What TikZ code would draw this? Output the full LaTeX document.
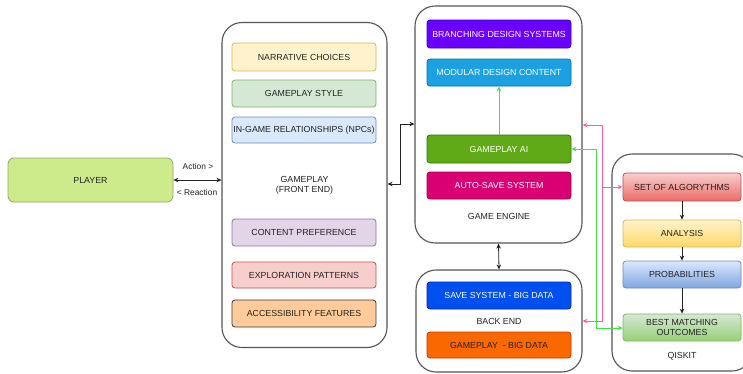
\documentclass[tikz,border=0pt]{standalone}
\usepackage{fontspec}
\setmainfont{Liberation Sans}
\usetikzlibrary{arrows.meta}
\definecolor{ink}{HTML}{222222}
\definecolor{frame}{HTML}{555555}
\definecolor{pinkln}{HTML}{FF5CAD}
\definecolor{greenln}{HTML}{44E044}
% fills and strokes
\definecolor{plFill}{HTML}{CDEB8B}\definecolor{plLine}{HTML}{8FA86A}
\definecolor{yeFill}{HTML}{FFF2CC}\definecolor{yeLine}{HTML}{D6B656}\definecolor{yeDeep}{HTML}{FFD966}
\definecolor{grFill}{HTML}{D5E8D4}\definecolor{grLine}{HTML}{82B366}\definecolor{grDeep}{HTML}{97D077}
\definecolor{blFill}{HTML}{DAE8FC}\definecolor{blLine}{HTML}{6C8EBF}\definecolor{blDeep}{HTML}{7EA6E0}
\definecolor{puFill}{HTML}{E1D5E7}\definecolor{puLine}{HTML}{9673A6}
\definecolor{rdFill}{HTML}{F8CECC}\definecolor{rdLine}{HTML}{B85450}\definecolor{rdDeep}{HTML}{EA6B66}
\definecolor{orFill}{HTML}{FFCC99}\definecolor{orLine}{HTML}{36393D}
\definecolor{viFill}{HTML}{6A00FF}\definecolor{viLine}{HTML}{3700CC}
\definecolor{cyFill}{HTML}{1BA1E2}\definecolor{cyLine}{HTML}{006EAF}
\definecolor{gaFill}{HTML}{60A917}\definecolor{gaLine}{HTML}{2D7600}
\definecolor{mgFill}{HTML}{D80073}\definecolor{mgLine}{HTML}{A50040}
\definecolor{cbFill}{HTML}{0050EF}\definecolor{cbLine}{HTML}{001DBC}
\definecolor{onFill}{HTML}{FA6800}\definecolor{onLine}{HTML}{C73500}
\tikzset{
  txt/.style={font=\fontsize{8.8}{10.5}\selectfont, text=ink, align=center},
  container/.style={draw=frame, line width=1.1pt, rounded corners=20pt, fill=white},
  item/.style={txt, rounded corners=3pt, line width=0.8pt, inner sep=0pt},
  flat/.style 2 args={item, fill=#1, draw=#2},
  darkflat/.style 2 args={flat={#1}{#2}, text=white},
  grad/.style n args={3}{item, top color=#1, bottom color=#2, draw=#3},
  tip/.style={-{Stealth[length=5pt,width=4.5pt]}},
  both/.style={{Stealth[length=5pt,width=4.5pt]}-{Stealth[length=5pt,width=4.5pt]}},
  wire/.style={line width=0.8pt}
}
\begin{document}
\begin{tikzpicture}[x=1pt,y=-1pt]
\useasboundingbox (0,0) rectangle (743,373);
\fill[white] (0,0) rectangle (743,373);

% player
\node[flat={plFill}{plLine}, rounded corners=6pt, minimum width=165pt, minimum height=44pt] (player) at (90.5,180) {PLAYER};

% front end
\node[container, minimum width=165pt, minimum height=325pt] (fe) at (304.5,185) {};
\node[txt] (felbl) at (304.5,185.5) {GAMEPLAY\\(FRONT END)};
\begin{scope}[every node/.append style={minimum width=144pt}]
\node[flat={yeFill}{yeLine}, minimum height=28pt] (narr) at (304,57) {NARRATIVE CHOICES};
\node[flat={grFill}{grLine}, minimum height=27pt] (style) at (304,93.5) {GAMEPLAY STYLE};
\node[flat={blFill}{blLine}, minimum height=26pt] (npc) at (304,130) {IN-GAME RELATIONSHIPS (NPCs)};
\node[flat={puFill}{puLine}, minimum height=27pt] (pref) at (304,232.5) {CONTENT PREFERENCE};
\node[flat={rdFill}{rdLine}, minimum height=26pt] (expl) at (304,275) {EXPLORATION PATTERNS};
\node[flat={orFill}{orLine}, minimum height=27pt] (access) at (304,313.5) {ACCESSIBILITY FEATURES};
\end{scope}

% game engine
\node[container, minimum width=167pt, minimum height=237pt] (ge) at (498.5,124.5) {};
\node[txt] (gelbl) at (499,216) {GAME ENGINE};
\begin{scope}[every node/.append style={minimum width=144pt}]
\node[darkflat={viFill}{viLine}, minimum height=28pt] (branch) at (499,34) {BRANCHING DESIGN SYSTEMS};
\node[darkflat={cyFill}{cyLine}, minimum height=27pt] (modular) at (499,72.5) {MODULAR DESIGN CONTENT};
\node[darkflat={gaFill}{gaLine}, minimum height=28pt] (gai) at (499,149) {GAMEPLAY AI};
\node[darkflat={mgFill}{mgLine}, minimum height=27pt] (autosave) at (499,185.5) {AUTO-SAVE SYSTEM};
\end{scope}

% back end
\node[container, minimum width=166pt, minimum height=102pt] (be) at (499,321) {};
\node[txt] (belbl) at (499,321) {BACK END};
\node[darkflat={cbFill}{cbLine}, minimum width=144pt, minimum height=27pt] (savesys) at (499,295.5) {SAVE SYSTEM - BIG DATA};
\node[flat={onFill}{onLine}, minimum width=144pt, minimum height=26pt] (gbd) at (499,345) {GAMEPLAY \ - BIG DATA};

% qiskit
\node[container, minimum width=140pt, minimum height=217pt] (qk) at (682,262.5) {};
\node[txt] (qklbl) at (682,356) {QISKIT};
\begin{scope}[every node/.append style={minimum width=118pt}]
\node[grad={rdFill}{rdDeep}{rdLine}, minimum height=28pt] (algo) at (682,187) {SET OF ALGORYTHMS};
\node[grad={yeFill}{yeDeep}{yeLine}, minimum height=27pt] (analysis) at (682,233.5) {ANALYSIS};
\node[grad={blFill}{blDeep}{blLine}, minimum height=27pt] (prob) at (682,274.5) {PROBABILITIES};
\node[grad={grFill}{grDeep}{grLine}, minimum height=27pt] (best) at (682,327.5) {BEST MATCHING\\OUTCOMES};
\end{scope}

% player <-> front end
\draw[wire, both, ink] (player.east) -- (fe.west |- player.east);
\node[txt, font=\fontsize{8.4}{10}\selectfont] (actlbl) at (198,166.5) {Action >};
\node[txt, font=\fontsize{8.4}{10}\selectfont] (reactlbl) at (197,192) {< Reaction};

% front end <-> game engine
\coordinate (feout) at (fe.east |- 0,184);
\coordinate (gein) at (ge.west |- 0,124);
\draw[wire, both, ink] (feout) -- (400,184) |- (gein);

% game engine <-> back end
\draw[wire, both, ink] (ge.south) -- (be.north);

% game engine internals
\draw[wire, tip, greenln] (gai.north) -- (modular.south);

% qiskit chain
\draw[wire, tip, ink] (algo) -- (analysis);
\draw[wire, tip, ink] (analysis) -- (prob);
\draw[wire, tip, ink] (prob) -- (best);

% pink links: algorithms to engine and back end
\coordinate (gepink) at (ge.east |- 0,125);
\coordinate (bepink) at (be.east |- 0,321);
\draw[wire, both, pinkln] (gepink) -| (602,187) -- (algo.west);
\draw[wire, tip, pinkln] (602,187) |- (bepink);

% green link: gameplay AI to best matching outcomes
\draw[wire, both, greenln] (gai.east) -| (596,328) -- (best.west |- 0,328);
\end{tikzpicture}
\end{document}
